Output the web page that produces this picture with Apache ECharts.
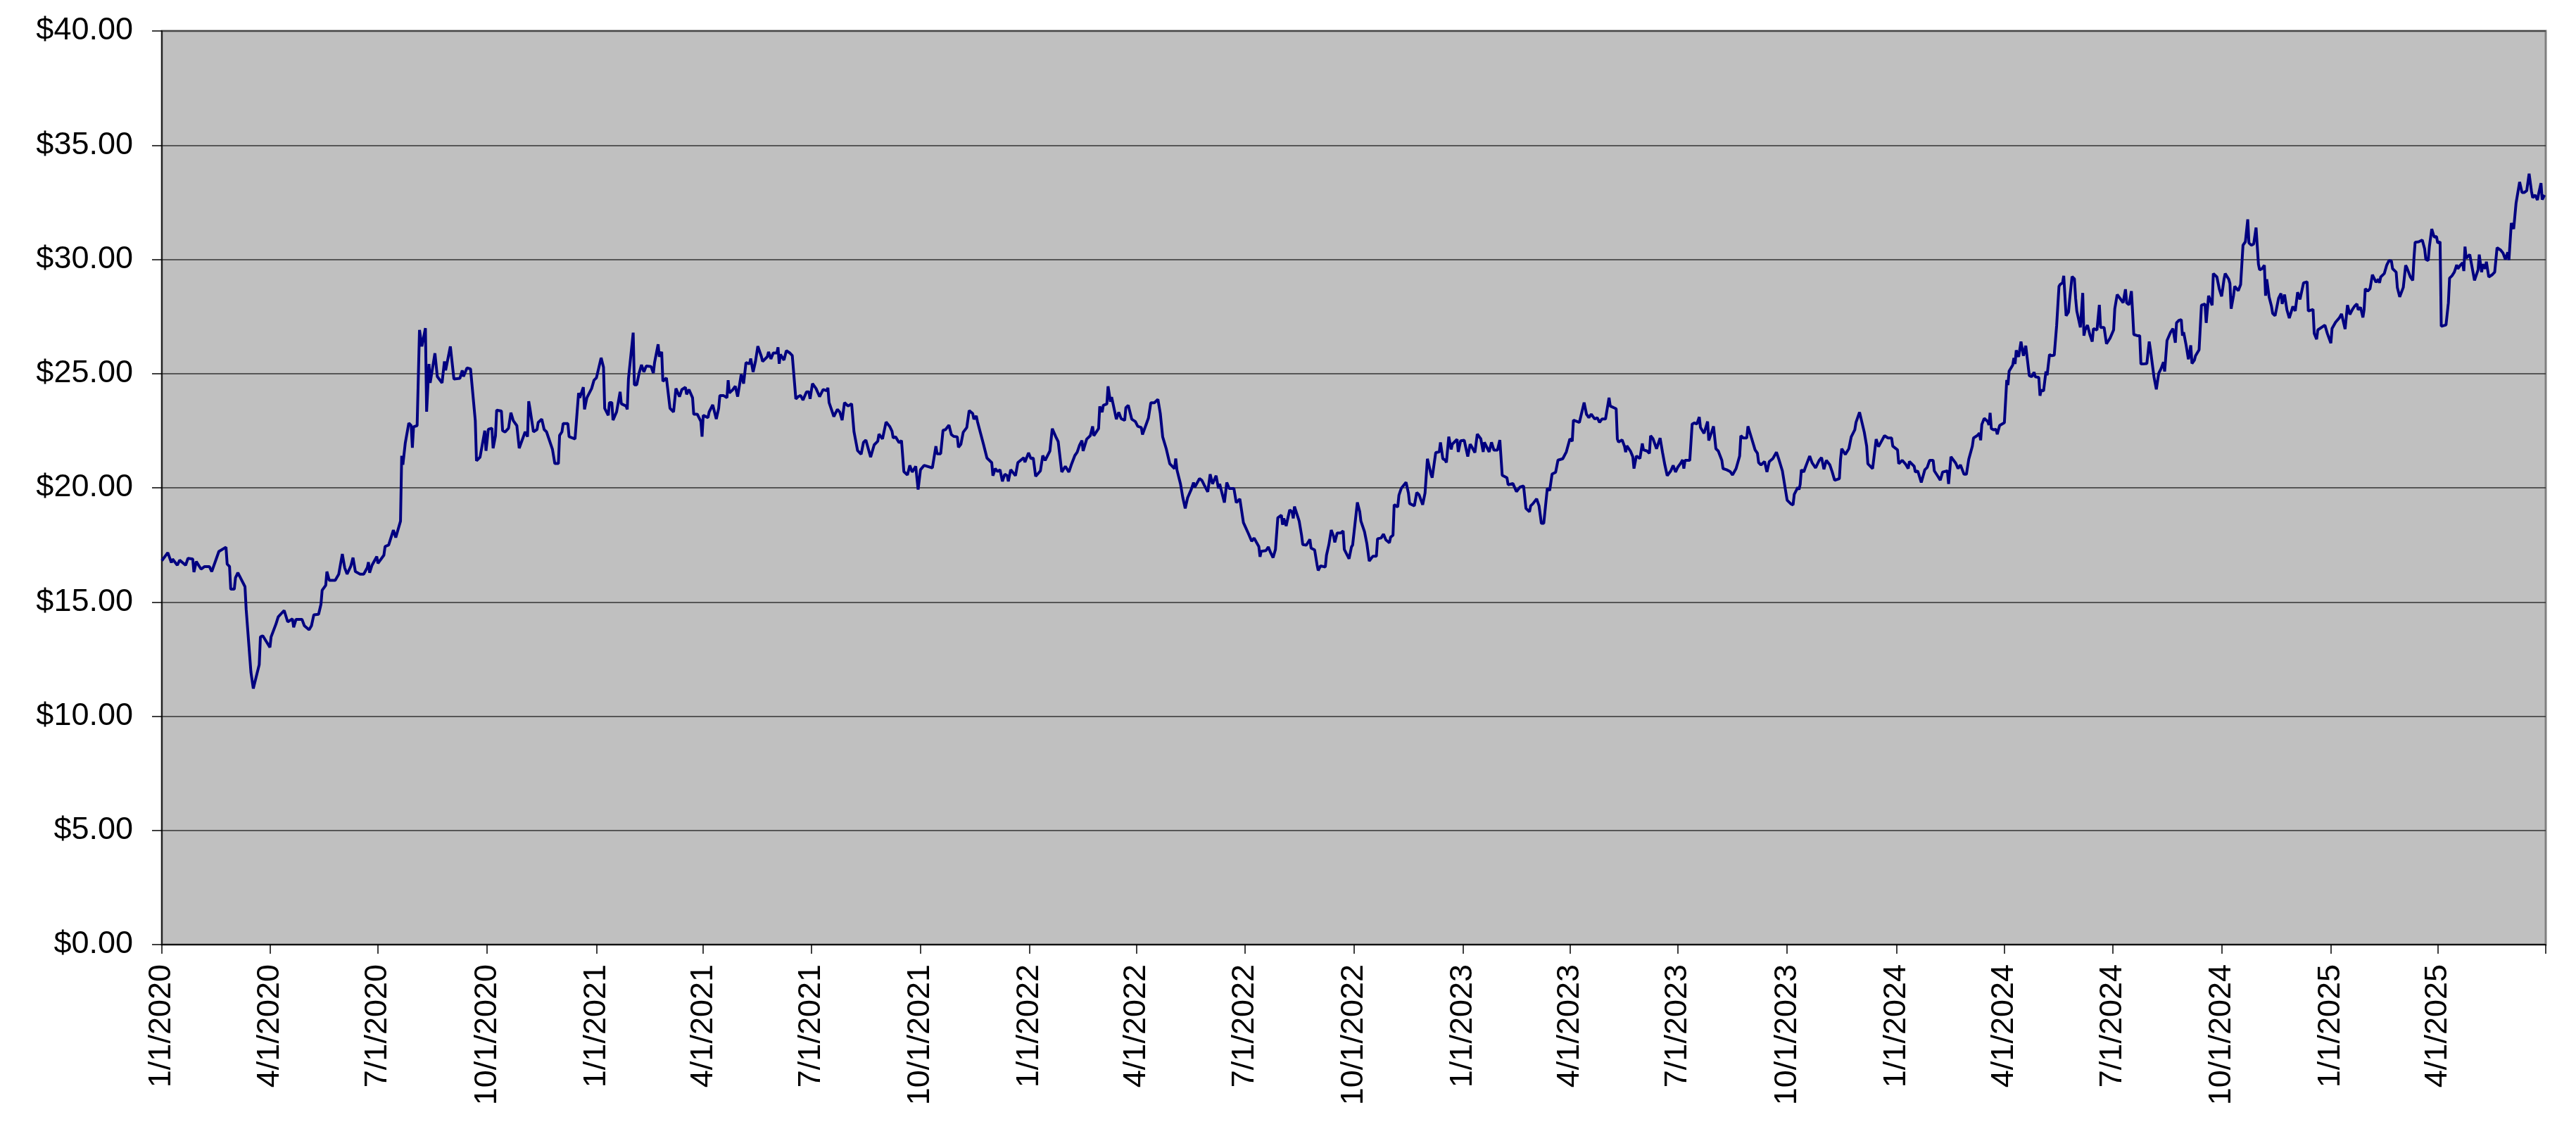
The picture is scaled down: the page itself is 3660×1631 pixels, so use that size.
<!DOCTYPE html>
<html>
<head>
<meta charset="utf-8">
<script src="https://cdn.jsdelivr.net/npm/echarts@6/dist/echarts.min.js"></script>
<style>
html,body{margin:0;padding:0;background:#ffffff;}
#chart{width:3660px;height:1631px;}
</style>
</head>
<body>
<div id="chart"></div>
<script>
// Quarterly tick labels on the date axis; the axis ends at 7/1/2025 (tick only, no label)
const tickLabels = ['1/1/2020','4/1/2020','7/1/2020','10/1/2020','1/1/2021','4/1/2021','7/1/2021','10/1/2021',
  '1/1/2022','4/1/2022','7/1/2022','10/1/2022','1/1/2023','4/1/2023','7/1/2023','10/1/2023',
  '1/1/2024','4/1/2024','7/1/2024','10/1/2024','1/1/2025','4/1/2025'];
const axisEndLabel = '7/1/2025';

// Price series, [month-day, price] per year
const prices2020 = [['01-01',16.81],['01-06',17.16],['01-09',16.72],['01-10',16.88],['01-14',16.61],['01-16',16.83],['01-21',16.61],['01-23',16.91],['01-27',16.88],['01-28',16.31],['01-30',16.77],['02-03',16.44],['02-06',16.55],['02-10',16.55],['02-12',16.33],['02-18',17.21],['02-24',17.40],['02-25',16.66],['02-27',16.55],['02-28',15.56],['03-02',15.56],['03-03',16.06],['03-05',16.28],['03-11',15.67],['03-12',14.68],['03-16',11.93],['03-18',11.21],['03-23',12.26],['03-24',13.47],['03-26',13.52],['04-01',13.01],['04-02',13.47],['04-06',14.02],['04-08',14.35],['04-13',14.63],['04-16',14.13],['04-20',14.26],['04-21',13.89],['04-23',14.24],['04-28',14.24],['04-30',13.96],['05-04',13.78],['05-06',13.96],['05-08',14.44],['05-12',14.46],['05-14',14.90],['05-15',15.51],['05-18',15.73],['05-19',16.33],['05-21',15.95],['05-26',15.95],['05-29',16.22],['06-01',17.10],['06-03',16.50],['06-05',16.22],['06-08',16.55],['06-10',16.94],['06-12',16.33],['06-16',16.22],['06-19',16.22],['06-22',16.50],['06-23',16.74],['06-24',16.28],['06-26',16.61],['06-30',16.99],['07-01',16.69],['07-06',17.05],['07-07',17.43],['07-10',17.49],['07-14',18.15],['07-16',17.82],['07-20',18.54],['07-21',21.40],['07-22',21.01],['07-24',21.95],['07-27',22.83],['07-29',22.72],['07-30',21.75],['07-31',22.67],['08-03',22.72],['08-05',26.91],['08-07',26.19],['08-10',26.99],['08-11',23.33],['08-13',25.42],['08-14',24.59],['08-18',25.89],['08-20',24.87],['08-24',24.59],['08-26',25.53],['08-27',25.14],['08-31',26.19],['09-03',24.76],['09-08',24.79],['09-10',25.14],['09-11',24.87],['09-14',25.25],['09-17',25.20],['09-21',22.94],['09-22',21.18],['09-25',21.34],['09-29',22.50],['09-30',21.62],['10-02',22.56],['10-05',22.61],['10-06',21.73],['10-08',22.28],['10-09',23.40],['10-13',23.36],['10-14',22.50],['10-16',22.44],['10-19',22.61],['10-21',23.29],['10-23',22.94],['10-26',22.72],['10-28',21.73],['10-29',21.68],['11-02',22.45],['11-04',22.24],['11-05',23.79],['11-06',23.48],['11-09',22.45],['11-12',22.55],['11-13',22.86],['11-16',23.01],['11-18',22.55],['11-20',22.45],['11-25',21.68],['11-27',21.06],['11-30',21.06],['12-01',22.29],['12-03',22.45],['12-04',22.81],['12-08',22.81],['12-09',22.24],['12-14',22.14],['12-17',24.15],['12-18',23.94],['12-21',24.40],['12-22',23.43],['12-24',23.94],['12-28',24.35],['12-30',24.71]];

const prices2021 = [['01-01',24.81],['01-05',25.69],['01-07',25.28],['01-08',23.48],['01-11',23.17],['01-12',23.73],['01-14',23.73],['01-15',22.96],['01-18',23.32],['01-21',24.20],['01-22',23.68],['01-26',23.58],['01-27',23.43],['01-28',24.76],['02-01',26.79],['02-02',24.51],['02-04',24.51],['02-06',25.02],['02-08',25.38],['02-10',25.07],['02-12',25.33],['02-16',25.31],['02-18',25.02],['02-19',25.48],['02-22',26.28],['02-23',25.74],['02-25',25.95],['02-26',24.66],['03-01',24.81],['03-04',23.48],['03-07',23.32],['03-09',24.35],['03-12',23.99],['03-14',24.30],['03-17',24.40],['03-18',24.09],['03-20',24.30],['03-23',23.94],['03-24',23.22],['03-27',23.22],['03-30',22.91],['03-31',22.24],['04-01',23.17],['04-05',23.07],['04-06',23.32],['04-09',23.63],['04-12',23.01],['04-14',23.48],['04-15',24.04],['04-18',24.04],['04-21',23.94],['04-22',24.71],['04-23',24.15],['04-26',24.30],['04-28',24.45],['04-30',23.99],['05-03',24.97],['05-05',24.56],['05-07',25.48],['05-10',25.43],['05-11',25.66],['05-13',25.07],['05-15',25.53],['05-17',26.20],['05-20',25.74],['05-21',25.53],['05-25',25.74],['05-26',25.95],['05-28',25.64],['05-30',25.90],['06-02',25.90],['06-03',26.15],['06-04',25.43],['06-05',25.84],['06-08',25.59],['06-10',26.00],['06-13',25.90],['06-15',25.79],['06-18',23.89],['06-20',23.99],['06-22',24.04],['06-24',23.84],['06-27',24.20],['06-29',24.20],['06-30',23.89],['07-02',24.56],['07-05',24.35],['07-08',23.99],['07-11',24.30],['07-14',24.25],['07-15',24.38],['07-16',23.73],['07-20',23.12],['07-23',23.43],['07-25',23.32],['07-27',22.96],['07-29',23.73],['08-01',23.58],['08-04',23.68],['08-06',22.45],['08-09',21.63],['08-12',21.47],['08-14',21.99],['08-16',22.09],['08-20',21.34],['08-23',21.88],['08-26',22.04],['08-27',22.35],['08-30',22.14],['09-02',22.88],['09-03',22.86],['09-05',22.69],['09-07',22.48],['09-08',22.18],['09-10',22.23],['09-13',21.97],['09-15',22.07],['09-17',20.71],['09-20',20.56],['09-22',20.98],['09-24',20.69],['09-27',20.94],['09-29',19.92],['10-01',20.79],['10-04',20.98],['10-11',20.87],['10-14',21.82],['10-15',21.49],['10-18',21.49],['10-20',22.52],['10-22',22.54],['10-25',22.74],['10-27',22.33],['10-29',22.25],['11-01',22.23],['11-02',21.77],['11-04',21.90],['11-06',22.43],['11-09',22.64],['11-11',23.38],['11-14',23.25],['11-15',23.00],['11-17',23.15],['11-18',22.90],['11-23',21.92],['11-26',21.30],['11-30',21.10],['12-01',20.53],['12-03',20.84],['12-05',20.71],['12-07',20.79],['12-09',20.28],['12-11',20.59],['12-13',20.53],['12-14',20.28],['12-16',20.79],['12-20',20.53],['12-22',21.10],['12-27',21.32],['12-28',21.12],['12-31',21.53]];

const prices2022 = [['01-02',21.28],['01-04',21.30],['01-06',20.50],['01-10',20.74],['01-12',21.41],['01-14',21.20],['01-18',21.61],['01-20',22.59],['01-23',22.23],['01-25',22.02],['01-28',20.69],['01-31',20.94],['02-03',20.69],['02-05',21.00],['02-08',21.41],['02-10',21.56],['02-12',21.87],['02-14',22.07],['02-15',21.61],['02-18',22.13],['02-21',22.28],['02-23',22.69],['02-24',22.28],['02-28',22.59],['03-01',23.56],['03-03',23.31],['03-04',23.61],['03-07',23.67],['03-08',24.44],['03-10',23.77],['03-11',23.97],['03-15',23.00],['03-17',23.31],['03-19',23.03],['03-22',22.95],['03-23',23.51],['03-25',23.61],['03-28',23.00],['03-31',22.90],['04-02',22.69],['04-05',22.64],['04-06',22.33],['04-11',23.05],['04-13',23.72],['04-16',23.72],['04-19',23.87],['04-21',23.25],['04-23',22.23],['04-26',21.71],['04-29',21.05],['05-03',20.84],['05-04',21.28],['05-05',20.79],['05-08',20.17],['05-10',19.56],['05-12',19.10],['05-14',19.56],['05-17',19.92],['05-19',20.23],['05-20',20.02],['05-24',20.40],['05-26',20.33],['05-28',20.12],['05-31',19.82],['06-02',20.59],['06-04',20.17],['06-07',20.53],['06-09',19.97],['06-10',20.17],['06-14',19.35],['06-16',20.23],['06-18',19.97],['06-22',19.97],['06-24',19.35],['06-27',19.51],['06-30',18.48],['07-04',18.02],['07-07',17.66],['07-09',17.80],['07-11',17.61],['07-13',17.43],['07-14',16.98],['07-15',17.22],['07-19',17.25],['07-21',17.41],['07-23',17.15],['07-25',16.94],['07-27',17.30],['07-29',18.69],['08-01',18.80],['08-02',18.38],['08-03',18.66],['08-05',18.33],['08-08',19.03],['08-10',18.95],['08-11',18.66],['08-12',19.18],['08-16',18.54],['08-18',17.92],['08-19',17.51],['08-22',17.49],['08-25',17.74],['08-26',17.36],['08-29',17.28],['08-31',16.64],['09-01',16.38],['09-03',16.58],['09-07',16.53],['09-08',17.05],['09-10',17.51],['09-12',18.15],['09-14',17.87],['09-15',17.61],['09-17',18.02],['09-20',18.02],['09-22',18.11],['09-23',17.30],['09-27',16.89],['09-29',17.41],['09-30',17.49],['10-04',19.36],['10-06',18.95],['10-07',18.54],['10-10',18.08],['10-12',17.56],['10-14',16.79],['10-17',17.00],['10-20',17.00],['10-21',17.77],['10-24',17.80],['10-26',17.97],['10-28',17.72],['10-31',17.59],['11-01',17.84],['11-03',17.92],['11-04',19.26],['11-07',19.16],['11-08',19.67],['11-10',19.98],['11-14',20.24],['11-16',19.77],['11-17',19.31],['11-21',19.21],['11-23',19.79],['11-25',19.69],['11-28',19.26],['11-30',19.77],['12-02',21.27],['12-05',20.60],['12-06',20.44],['12-09',21.54],['12-12',21.57],['12-13',21.99],['12-15',21.27],['12-17',21.21],['12-18',21.11],['12-20',22.24],['12-22',21.68],['12-23',21.91],['12-27',22.12],['12-28',21.57],['12-30',22.06]];

const prices2023 = [['01-02',22.08],['01-05',21.37],['01-07',21.91],['01-08',21.83],['01-11',21.54],['01-13',22.35],['01-16',22.14],['01-18',21.57],['01-19',21.99],['01-21',21.78],['01-23',21.57],['01-25',21.99],['01-27',21.65],['01-30',21.65],['02-01',22.09],['02-03',20.55],['02-07',20.44],['02-08',20.13],['02-12',20.19],['02-15',19.83],['02-18',20.03],['02-21',20.08],['02-23',19.10],['02-26',18.95],['02-27',19.21],['03-01',19.31],['03-04',19.52],['03-06',19.21],['03-08',18.44],['03-10',18.44],['03-13',19.98],['03-15',19.88],['03-17',20.60],['03-20',20.68],['03-22',21.21],['03-26',21.27],['03-29',21.57],['04-01',22.14],['04-03',22.04],['04-04',22.96],['04-09',22.86],['04-13',23.73],['04-15',23.22],['04-17',23.07],['04-19',23.22],['04-22',23.01],['04-24',23.07],['04-26',22.86],['04-28',23.01],['05-01',23.01],['05-04',23.94],['05-05',23.58],['05-10',23.46],['05-11',22.13],['05-12',22.00],['05-15',22.10],['05-17',21.82],['05-18',21.56],['05-19',21.84],['05-22',21.61],['05-24',21.36],['05-25',20.84],['05-27',21.39],['05-30',21.28],['06-01',21.94],['06-02',21.66],['06-05',21.61],['06-07',21.51],['06-08',22.28],['06-10',22.15],['06-13',21.71],['06-16',22.18],['06-18',21.56],['06-20',21.00],['06-22',20.53],['06-25',20.74],['06-27',20.98],['06-29',20.69],['07-01',20.91],['07-03',21.05],['07-05',21.22],['07-06',20.84],['07-07',21.20],['07-11',21.20],['07-13',22.79],['07-15',22.84],['07-17',22.79],['07-19',23.10],['07-20',22.64],['07-23',22.38],['07-26',22.90],['07-27',22.07],['07-29',22.38],['07-31',22.69],['08-02',21.71],['08-04',21.61],['08-07',21.20],['08-08',20.84],['08-11',20.79],['08-14',20.71],['08-16',20.56],['08-19',20.84],['08-22',21.39],['08-23',22.28],['08-25',22.18],['08-28',22.18],['08-29',22.69],['09-01',22.18],['09-04',21.66],['09-06',21.51],['09-07',21.10],['09-09',21.00],['09-12',21.15],['09-14',20.69],['09-16',21.15],['09-19',21.28],['09-22',21.56],['09-24',21.25],['09-27',20.74],['09-28',20.71],['10-01',19.46],['10-04',19.30],['10-06',19.25],['10-07',19.71],['10-10',20.02],['10-11',19.92],['10-12',20.15],['10-13',20.79],['10-15',20.69],['10-16',20.84],['10-20',21.39],['10-22',21.10],['10-25',20.87],['10-28',21.20],['10-30',21.32],['11-01',20.81],['11-03',21.20],['11-06',21.00],['11-08',20.69],['11-10',20.33],['11-14',20.40],['11-15',21.25],['11-16',21.71],['11-19',21.46],['11-22',21.71],['11-24',22.23],['11-27',22.54],['11-28',22.86],['12-01',23.31],['12-05',22.43],['12-07',21.82],['12-08',21.05],['12-12',20.84],['12-15',22.13],['12-17',21.80],['12-18',21.82],['12-22',22.28],['12-25',22.18],['12-28',22.18],['12-29',21.82]];

const prices2024 = [['01-02',21.66],['01-03',21.05],['01-06',21.20],['01-09',21.02],['01-11',20.84],['01-12',21.15],['01-16',20.94],['01-17',20.69],['01-19',20.74],['01-22',20.23],['01-25',20.79],['01-27',20.89],['01-29',21.20],['02-01',21.20],['02-02',20.74],['02-05',20.50],['02-07',20.33],['02-09',20.69],['02-13',20.74],['02-14',20.17],['02-16',21.36],['02-20',21.08],['02-22',20.84],['02-24',21.00],['02-27',20.59],['02-29',20.59],['03-02',21.25],['03-05',21.82],['03-06',22.18],['03-09',22.28],['03-11',22.39],['03-12',22.08],['03-13',22.77],['03-15',23.04],['03-18',22.90],['03-19',22.75],['03-20',23.28],['03-21',22.59],['03-23',22.54],['03-25',22.56],['03-26',22.34],['03-28',22.73],['04-01',22.85],['04-03',24.72],['04-04',24.50],['04-05',25.11],['04-08',25.37],['04-09',25.68],['04-10',25.42],['04-11',26.02],['04-13',25.73],['04-15',26.40],['04-17',25.78],['04-19',26.22],['04-22',24.91],['04-24',24.86],['04-26',25.06],['04-27',24.86],['04-30',24.83],['05-01',24.03],['05-02',24.27],['05-04',24.24],['05-06',25.09],['05-07',24.93],['05-09',25.83],['05-11',25.78],['05-13',25.81],['05-15',27.09],['05-17',28.82],['05-18',28.90],['05-20',28.97],['05-21',29.28],['05-23',27.53],['05-25',27.69],['05-26',28.25],['05-28',29.25],['05-30',29.15],['05-31',28.30],['06-01',27.74],['06-02',27.74],['06-04',27.02],['06-06',28.53],['06-07',26.66],['06-08',26.91],['06-10',27.12],['06-12',26.71],['06-14',26.40],['06-15',26.97],['06-18',26.91],['06-20',28.01],['06-21',27.02],['06-24',27.02],['06-26',26.30],['06-29',26.55],['07-02',26.91],['07-03',27.84],['07-05',28.46],['07-08',28.25],['07-10',28.10],['07-12',28.69],['07-13',28.10],['07-15',28.01],['07-17',28.61],['07-18',27.69],['07-19',26.71],['07-22',26.66],['07-24',26.66],['07-25',25.42],['07-27',25.42],['07-30',25.44],['08-01',26.40],['08-02',26.06],['08-05',24.86],['08-07',24.31],['08-09',25.01],['08-11',25.22],['08-13',25.50],['08-14',25.09],['08-16',26.45],['08-19',26.81],['08-21',26.97],['08-23',26.35],['08-24',27.22],['08-26',27.33],['08-28',27.36],['08-29',26.66],['08-30',26.81],['09-01',26.27],['09-03',25.63],['09-05',26.24],['09-06',25.44],['09-08',25.58],['09-09',25.78],['09-12',26.04],['09-14',27.99],['09-17',28.05],['09-18',27.22],['09-20',28.41],['09-23',27.99],['09-24',29.38],['09-27',29.23],['09-29',28.71],['10-01',28.38],['10-03',29.13],['10-04',29.38],['10-07',29.13],['10-08',28.94],['10-09',27.84],['10-11',28.41],['10-12',28.82],['10-15',28.63],['10-17',28.90],['10-18',28.90],['10-19',30.62],['10-21',30.77],['10-23',31.75],['10-24',30.72],['10-26',30.62],['10-28',30.67],['10-30',31.39],['11-01',29.79],['11-02',29.54],['11-04',29.59],['11-06',29.74],['11-07',28.41],['11-08',29.13],['11-10',28.35],['11-12',27.94],['11-13',27.63],['11-15',27.53],['11-18',28.30],['11-20',28.51],['11-21',28.05],['11-23',28.46],['11-25',27.79],['11-27',27.43],['11-30',27.94],['12-02',27.74],['12-04',28.56],['12-06',28.25],['12-09',28.97],['12-12',29.02],['12-13',27.74],['12-17',27.81],['12-18',26.76],['12-20',26.50],['12-21',26.91],['12-27',27.12],['12-29',26.76]];

const prices2025 = [['01-01',26.33],['01-02',26.97],['01-05',27.25],['01-08',27.43],['01-10',27.61],['01-13',26.95],['01-15',28.00],['01-17',27.59],['01-19',27.79],['01-21',27.95],['01-23',28.05],['01-24',27.79],['01-26',27.90],['01-28',27.46],['01-29',27.79],['01-30',28.72],['02-01',28.61],['02-03',28.72],['02-05',29.33],['02-06',29.38],['02-08',29.00],['02-10',29.13],['02-11',28.97],['02-12',29.23],['02-15',29.38],['02-17',29.74],['02-19',29.95],['02-21',29.93],['02-22',29.59],['02-25',29.44],['02-26',28.77],['02-27',28.72],['02-28',28.36],['03-03',28.77],['03-05',29.74],['03-06',29.64],['03-09',29.23],['03-11',29.08],['03-12',30.05],['03-13',30.75],['03-16',30.77],['03-19',30.85],['03-21',30.46],['03-22',30.00],['03-24',29.95],['03-25',30.56],['03-27',31.33],['03-29',30.98],['03-31',31.00],['04-01',30.72],['04-03',30.77],['04-04',27.07],['04-08',27.13],['04-10',28.10],['04-11',29.18],['04-13',29.28],['04-15',29.44],['04-17',29.76],['04-18',29.59],['04-20',29.74],['04-22',29.85],['04-23',29.49],['04-24',30.56],['04-25',30.05],['04-28',30.21],['04-30',29.64],['05-02',29.08],['05-05',29.54],['05-06',30.21],['05-08',29.44],['05-09',29.79],['05-11',29.59],['05-12',29.90],['05-14',29.23],['05-17',29.33],['05-19',29.44],['05-21',30.51],['05-24',30.41],['05-26',30.28],['05-28',30.00],['05-30',30.31],['05-31',29.97],['06-02',31.59],['06-04',31.33],['06-06',32.46],['06-09',33.39],['06-11',32.93],['06-13',32.93],['06-15',33.01],['06-17',33.75],['06-19',32.98],['06-20',32.70],['06-22',32.82],['06-24',32.60],['06-25',32.87],['06-27',33.34],['06-28',32.62],['06-30',32.82]];

const yearSeries = [[2020, prices2020],[2021, prices2021],[2022, prices2022],[2023, prices2023],[2024, prices2024],[2025, prices2025]];

function labelToTime(s) {
  const p = s.split('/').map(Number);
  return new Date(p[2], p[0] - 1, p[1]).getTime();
}
function timeToLabel(t) {
  const d = new Date(t);
  return (d.getMonth() + 1) + '/' + d.getDate() + '/' + d.getFullYear();
}

const lineData = [];
yearSeries.forEach(function (ys) {
  const year = ys[0];
  ys[1].forEach(function (pt) {
    const md = pt[0].split('-').map(Number);
    lineData.push([new Date(year, md[0] - 1, md[1]).getTime(), pt[1]]);
  });
});

const labelTimes = tickLabels.map(labelToTime);
const tickTimes = labelTimes.concat([labelToTime(axisEndLabel)]);
const FONT = '"Liberation Sans", Arial, Helvetica, sans-serif';

const chart = echarts.init(document.getElementById('chart'), null, {renderer: 'canvas'});
chart.setOption({
  animation: false,
  backgroundColor: '#ffffff',
  grid: {
    left: 230, right: 43, top: 44, bottom: 289,
    show: true,
    backgroundColor: '#C0C0C0',
    borderColor: '#808080',
    borderWidth: 3,
    containLabel: false,
    outerBoundsMode: 'none'
  },
  xAxis: {
    type: 'value',
    min: labelTimes[0],
    max: tickTimes[tickTimes.length - 1],
    axisLine: {show: true, onZero: false, lineStyle: {color: '#000000', width: 1.5}},
    axisTick: {show: true, inside: false, length: 13, customValues: tickTimes, lineStyle: {color: '#000000', width: 1.5}},
    axisLabel: {
      show: true,
      customValues: labelTimes,
      rotate: 90,
      margin: 28,
      fontSize: 45,
      fontFamily: FONT,
      color: '#000000',
      formatter: function (v) { return timeToLabel(v); }
    },
    splitLine: {show: false}
  },
  yAxis: {
    type: 'value',
    min: 0,
    max: 40,
    interval: 5,
    axisLine: {show: true, lineStyle: {color: '#000000', width: 1.5}},
    axisTick: {show: true, inside: false, length: 14, lineStyle: {color: '#000000', width: 1.5}},
    axisLabel: {
      margin: 41,
      fontSize: 45,
      fontFamily: FONT,
      color: '#000000',
      formatter: function (v) { return '$' + Number(v).toFixed(2); }
    },
    splitLine: {show: true, lineStyle: {color: '#333333', width: 1.5}}
  },
  series: [{
    type: 'line',
    data: lineData,
    showSymbol: false,
    symbol: 'none',
    lineStyle: {color: '#000080', width: 4},
    itemStyle: {color: '#000080'},
    z: 3
  }]
});
</script>
</body>
</html>
